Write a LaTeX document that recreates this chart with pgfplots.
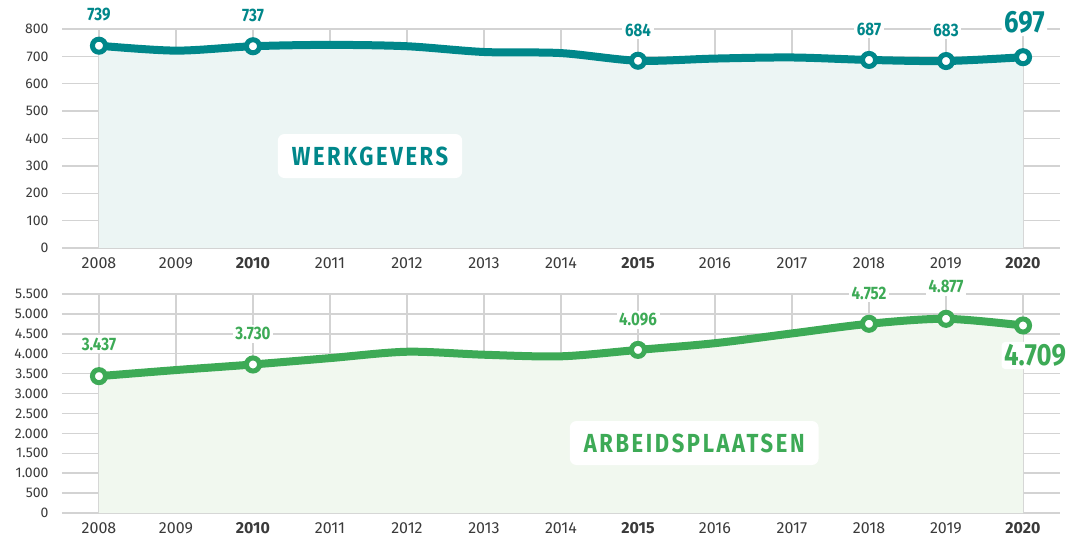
\documentclass[border=0pt]{standalone}
\usepackage{fontspec}
\setmainfont{Fira Sans}
\newfontfamily\cond{Fira Sans}[FakeStretch=0.84]
\newfontfamily\condls{Fira Sans}[FakeStretch=0.84, LetterSpace=10]
\usepackage{pgfplots}
\pgfplotsset{compat=1.18}
\definecolor{tealc}{HTML}{00878A}
\definecolor{tealfill}{HTML}{ECF5F4}
\definecolor{greenc}{HTML}{3DAA56}
\definecolor{greenfill}{HTML}{F1F8EF}
\definecolor{gridc}{HTML}{D3D3D3}
\definecolor{tickc}{HTML}{3A3A3A}

\pgfplotstableread{
year werk arb
2008 739 3437
2009 721 3590
2010 737 3730
2011 742 3890
2012 737 4050
2013 716 3975
2014 712 3935
2015 684 4096
2016 692 4265
2017 696 4510
2018 687 4752
2019 683 4877
2020 697 4709
}\datatable

\pgfplotstableread{
year werk arb
2008 739 3437
2010 737 3730
2015 684 4096
2018 687 4752
2019 683 4877
2020 697 4709
}\marktable

\pgfplotsset{
  base/.style={
    scale only axis,
    width=748.5pt, height=164.25pt,
    xmin=2007.52, xmax=2020.48,
    ymin=0,
    clip=false,
    axis line style={draw=none},
    major tick length=0pt,
    grid=major,
    grid style={gridc, line width=1.1pt},
    xtick={2008,...,2020},
    xticklabels={2008,2009,\textbf{2010},2011,2012,2013,2014,\textbf{2015},2016,2017,2018,2019,\textbf{2020}},
    xticklabel style={font=\fontsize{12}{14}\selectfont, text=tickc, anchor=north, inner sep=0pt, yshift=-7pt},
    yticklabel style={font=\fontsize{10.5}{12}\selectfont, text=tickc, anchor=east, inner sep=0pt, xshift=-10pt},
    /pgf/number format/assume math mode=true,
    /pgf/number format/1000 sep={.},
  },
}
\tikzset{
  lab/.style={fill=white, inner sep=2pt, font=\cond\bfseries\fontsize{13.5}{15}\selectfont},
  biglab/.style={fill=white, rounded corners=3pt, inner sep=2pt, font=\cond\bfseries\fontsize{23}{26}\selectfont},
  boxtitle/.style={fill=white, rounded corners=5pt, inner xsep=10.5pt, inner ysep=9.75pt, text height=13.5pt, text depth=0pt, font=\condls\bfseries\fontsize{19.6}{22}\selectfont},
}

\begin{document}
\begin{tikzpicture}[x=1pt,y=1pt]
\path[use as bounding box] (0,0) rectangle (801,402);

\begin{axis}[base, at={(46.5pt,216pt)}, anchor=south west,
  ymax=800, ytick={0,100,...,800}]
\addplot[fill=tealfill, draw=none, smooth] table[x=year, y=werk] {\datatable} \closedcycle;
\addplot[tealc, line width=6pt, smooth] table[x=year, y=werk] {\datatable};
\addplot[only marks, mark=*, mark size=4.9pt, mark options={fill=white, draw=tealc, line width=3.75pt}] table[x=year, y=werk] {\marktable};
\node[boxtitle, text=tealc] at (axis cs:2011.52,336) {WERKGEVERS};
\node[lab, text=tealc] at (axis cs:2008,739) [yshift=23pt] {739};
\node[lab, text=tealc] at (axis cs:2010,737) [yshift=23pt] {737};
\node[lab, text=tealc] at (axis cs:2015,684) [yshift=23pt] {684};
\node[lab, text=tealc] at (axis cs:2018,687) [yshift=23pt] {687};
\node[lab, text=tealc] at (axis cs:2019,683) [yshift=23pt] {683};
\node[biglab, text=tealc] at (axis cs:2020,697) [yshift=26pt, xshift=1pt] {697};
\end{axis}

\begin{axis}[base, at={(46.5pt,17.25pt)}, anchor=south west,
  ymax=5500, ytick={0,500,...,5500}]
\addplot[fill=greenfill, draw=none, smooth] table[x=year, y=arb] {\datatable} \closedcycle;
\addplot[greenc, line width=6pt, smooth] table[x=year, y=arb] {\datatable};
\addplot[only marks, mark=*, mark size=4.9pt, mark options={fill=white, draw=greenc, line width=3.75pt}] table[x=year, y=arb] {\marktable};
\node[boxtitle, text=greenc] at (axis cs:2015.73,1758) {ARBEIDSPLAATSEN};
\node[lab, text=greenc] at (axis cs:2008,3437) [yshift=24pt] {3.437};
\node[lab, text=greenc] at (axis cs:2010,3730) [yshift=23pt] {3.730};
\node[lab, text=greenc] at (axis cs:2015,4096) [yshift=22.5pt] {4.096};
\node[lab, text=greenc] at (axis cs:2018,4752) [yshift=23pt] {4.752};
\node[lab, text=greenc] at (axis cs:2019,4877) [yshift=24pt] {4.877};
\node[biglab, text=greenc] at (axis cs:2020,4709) [yshift=-22.5pt, xshift=9pt] {4.709};
\end{axis}
\end{tikzpicture}
\end{document}
